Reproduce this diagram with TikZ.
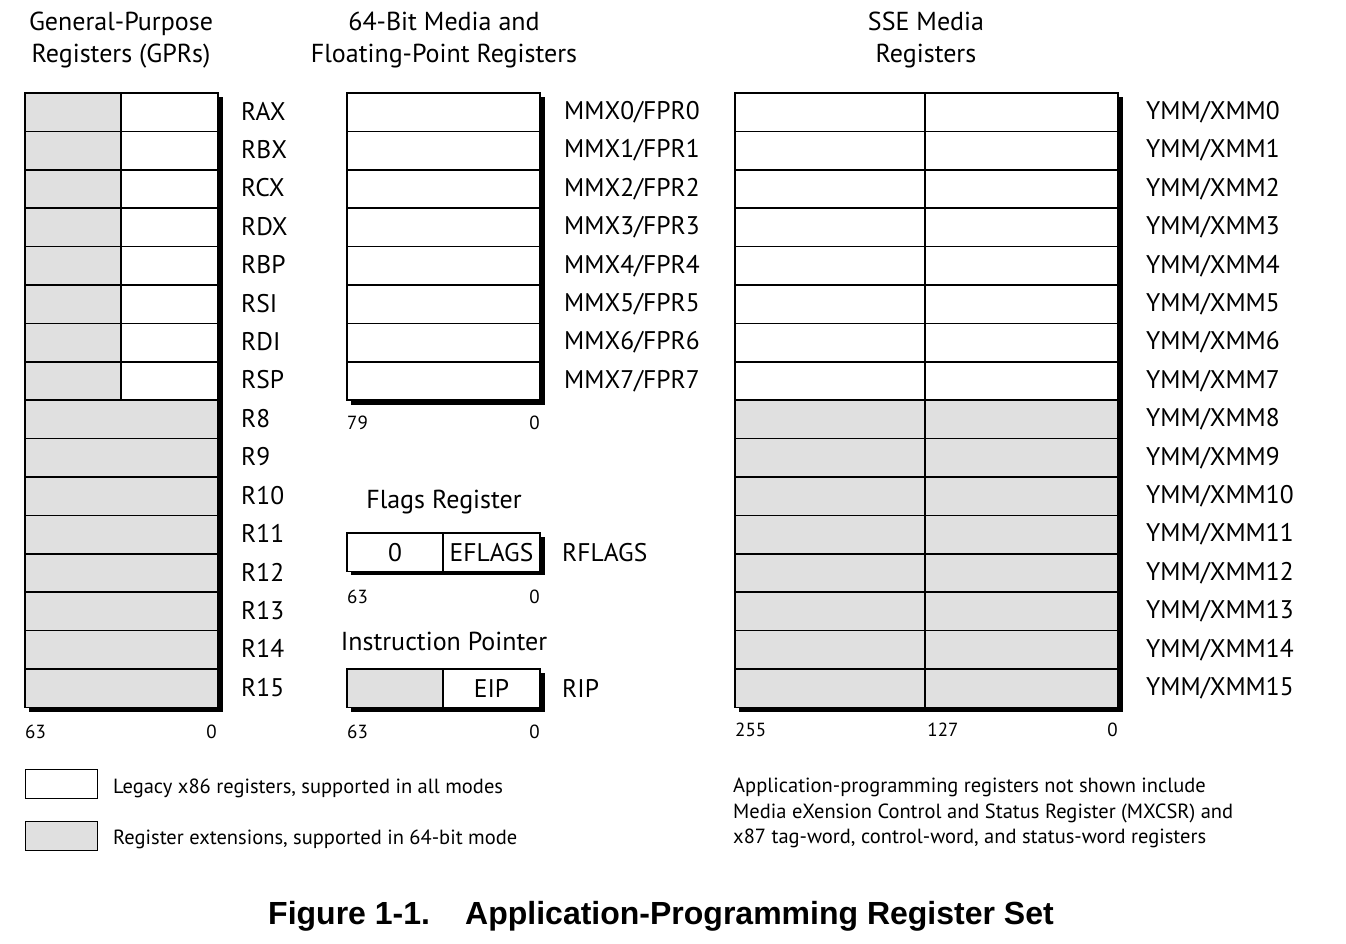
\documentclass[tikz,border=0pt]{standalone}
\usepackage{fontspec}
\setmainfont{PT Sans}
\newfontfamily\titlefont{Liberation Sans}
\definecolor{regGray}{HTML}{E0E0E0}
\begin{document}
\begin{tikzpicture}[x=1pt,y=-1pt,
  cell/.style={draw=black, line width=1.6pt, anchor=north west, minimum height=38.4pt, inner sep=0pt, outer sep=0pt, font=\fontsize{25.5}{28}\selectfont},
  wcell/.style={cell, fill=white},
  gcell/.style={cell, fill=regGray},
  lab/.style={anchor=west, font=\fontsize{25.5}{28}\selectfont, inner sep=0pt},
  num/.style={font=\fontsize{19}{22}\selectfont, inner sep=0pt},
  head/.style={font=\fontsize{26}{32}\selectfont, align=center, inner sep=0pt},
  small/.style={font=\fontsize{20.5}{25.5}\selectfont, inner sep=0pt},
  legbox/.style={draw=black, line width=1pt, anchor=north west, minimum width=72pt, minimum height=29pt, inner sep=0pt, outer sep=0pt},
  shadowfill/.style={fill=black, draw=none}]
\useasboundingbox (0,0) rectangle (1346,944);
\fill[white] (0,0) rectangle (1346,944);

% headers
\node[head] (hgpr) at (121,40) {General-Purpose\\Registers (GPRs)};
\node[head] (hmmx) at (444,40) {64-Bit Media and\\Floating-Point Registers};
\node[head] (hsse) at (926,40) {SSE Media\\Registers};

% shadows
\fill[shadowfill] (29,97) rectangle (222.5,711.5);
\fill[shadowfill] (351,97) rectangle (544.5,404.5);
\fill[shadowfill] (739,97) rectangle (1122.5,711.5);
\fill[shadowfill] (351,537) rectangle (544.5,575);
\fill[shadowfill] (351,673.4) rectangle (544.5,711.5);

% GPRs
\foreach \n [count=\i from 0] in {RAX,RBX,RCX,RDX,RBP,RSI,RDI,RSP,R8,R9,R10,R11,R12,R13,R14,R15} {
  \pgfmathsetmacro\yy{93+38.4*\i}
  \ifnum\i<8
    \node[gcell, minimum width=96pt] (gh\i) at (25,\yy) {};
    \node[wcell, minimum width=97pt] (gw\i) at (121,\yy) {};
  \else
    \node[gcell, minimum width=193pt] (gh\i) at (25,\yy) {};
  \fi
  \node[lab] (gl\i) at (241,\yy+18.2) {\n};
}
\node[num, anchor=west] (g63) at (25,732) {63};
\node[num, anchor=east] (g0) at (217,732) {0};

% MMX
\foreach \i in {0,...,7} {
  \pgfmathsetmacro\yy{93+38.4*\i}
  \node[wcell, minimum width=193pt] (mm\i) at (347,\yy) {};
  \node[lab] (ml\i) at (564,\yy+19.2) {MMX\i/FPR\i};
}
\node[num, anchor=west] (m79) at (347,423) {79};
\node[num, anchor=east] (m0) at (540,423) {0};

% Flags
\node[head] (hflags) at (444,502) {Flags Register};
\node[wcell, minimum width=96pt] (fz) at (347,533) {0};
\node[wcell, minimum width=97pt] (fe) at (443,533) {EFLAGS};
\node[lab] (fl) at (562,553) {RFLAGS};
\node[num, anchor=west] (f63) at (347,597) {63};
\node[num, anchor=east] (f0) at (540,597) {0};

% Instruction pointer
\node[head] (hip) at (444,641) {Instruction Pointer};
\node[gcell, minimum width=96pt] (ih) at (347,669) {};
\node[wcell, minimum width=97pt] (ie) at (443,669) {EIP};
\node[lab] (il) at (562,688.2) {RIP};
\node[num, anchor=west] (i63) at (347,732) {63};
\node[num, anchor=east] (i0) at (540,732) {0};

% SSE
\foreach \i in {0,...,15} {
  \pgfmathsetmacro\yy{93+38.4*\i}
  \ifnum\i<8
    \node[wcell, minimum width=190pt] (sa\i) at (735,\yy) {};
    \node[wcell, minimum width=193pt] (sb\i) at (925,\yy) {};
  \else
    \node[gcell, minimum width=190pt] (sa\i) at (735,\yy) {};
    \node[gcell, minimum width=193pt] (sb\i) at (925,\yy) {};
  \fi
  \node[lab] (sl\i) at (1146,\yy+19.2) {YMM/XMM\i};
}
\node[num, anchor=west] (s255) at (735,730) {255};
\node[num] (s127) at (943,730) {127};
\node[num, anchor=east] (s0) at (1118,730) {0};

% legend
\node[legbox, fill=white] (lw) at (25,769) {};
\node[small, anchor=west] (lwt) at (113,788) {Legacy x86 registers, supported in all modes};
\node[legbox, fill=regGray] (lg) at (25,821) {};
\node[small, anchor=west] (lgt) at (113,839) {Register extensions, supported in 64-bit mode};

% note
\node[small, anchor=north west, align=left] (note) at (733,778) {Application-programming registers not shown include\\Media eXension Control and Status Register (MXCSR) and\\x87 tag-word, control-word, and status-word registers};

% title
\node[inner sep=0pt, font=\titlefont\bfseries\fontsize{32}{36}\selectfont] (title) at (661,916) {Figure 1-1.\hspace{1.1em}Application-Programming Register Set};
\end{tikzpicture}
\end{document}
